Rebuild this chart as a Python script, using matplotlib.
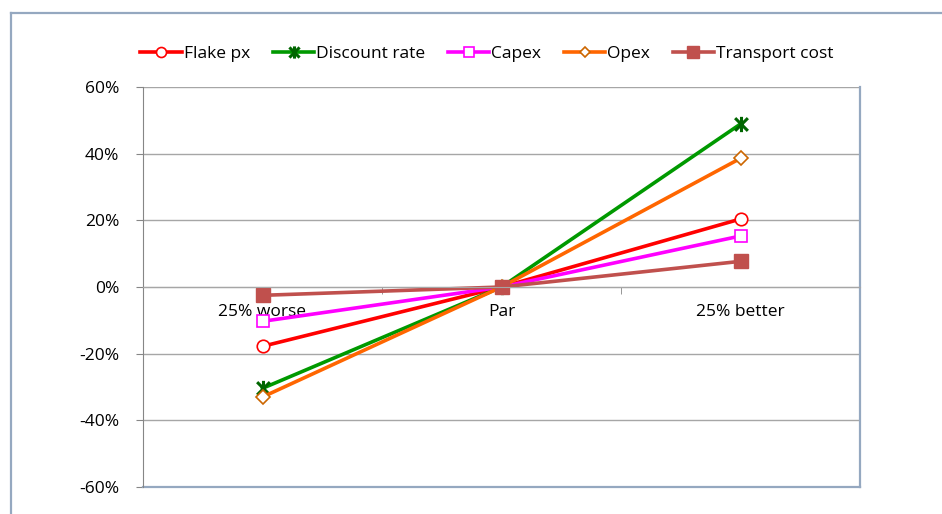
import matplotlib
matplotlib.use("Agg")
from matplotlib import pyplot as plt
from matplotlib.lines import Line2D
from matplotlib.path import Path

plt.rcParams['font.family'] = ['Open Sans', 'DejaVu Sans']

# 数据
categories = ["25% worse", "Par", "25% better"]
flake_px = [-17.8, 0, 20.4]
discount_rate = [-30.4, 0, 48.9]
capex = [-10.3, 0, 15.3]
opex = [-33.0, 0, 38.6]
transport_cost = [-2.5, 0, 7.7]

fig = plt.figure(figsize=(9.42, 5.14), dpi=100)
ax = fig.add_axes([143 / 942, 1 - 487 / 514, (860 - 143) / 942, (487 - 87) / 514])

# 外框 (只看得到左边和上边)
bx, by = 10.5 / 942, 1 - 13 / 514
fig.lines.append(Line2D([bx, bx], [-0.05, by], transform=fig.transFigure,
                        color="#95A8C0", lw=1.6))
fig.lines.append(Line2D([bx, 1.05], [by, by], transform=fig.transFigure,
                        color="#95A8C0", lw=1.6))

# 星形标记: X 加竖线
star = Path([(-1, -1), (1, 1), (-1, 1), (1, -1), (0, -1.2), (0, 1.2)],
            [Path.MOVETO, Path.LINETO] * 3)

x = range(len(categories))
lw = 2.6
ax.plot(x, flake_px, color="#FF0000", lw=lw, marker="o", ms=9,
        mfc="white", mec="#FF0000", mew=1.2, label="Flake px")
ax.plot(x, discount_rate, color="#009900", lw=lw, marker=star, ms=11,
        mec="#006600", mew=2.2, label="Discount rate")
ax.plot(x, capex, color="#FF00FF", lw=lw, marker="s", ms=9,
        mfc="white", mec="#FF00FF", mew=1.2, label="Capex")
ax.plot(x, opex, color="#FF6600", lw=lw, marker="D", ms=7,
        mfc="white", mec="#CC6600", mew=1.2, label="Opex")
ax.plot(x, transport_cost, color="#C0504D", lw=lw, marker="s", ms=10,
        mfc="#C0504D", mec="#C0504D", label="Transport cost")

ax.set_xlim(-0.5, 2.5)
ax.set_ylim(-60, 60)
ax.set_yticks(range(-60, 61, 20))
ax.set_yticklabels([f"{v}%" for v in range(-60, 61, 20)])
ax.yaxis.grid(True, color="#A6A6A6", lw=1)
ax.set_axisbelow(True)
ax.tick_params(axis="y", length=5, color="#868686", pad=12, labelsize=12.5)

ax.set_xticks(list(x))
ax.set_xticklabels(categories)
ax.set_xticks([0.5, 1.5], minor=True)
ax.tick_params(axis="x", which="major", length=0, pad=12, labelsize=12.5)
ax.tick_params(axis="x", which="minor", length=5, color="#868686")

ax.spines["bottom"].set_position(("data", 0))
ax.spines["bottom"].set_color("#A6A6A6")
ax.spines["left"].set_color("#868686")
ax.spines["top"].set_visible(False)
ax.spines["right"].set_color("#95A8C0")
ax.spines["right"].set_linewidth(1.6)
ax.axhline(-60, color="#95A8C0", lw=1.6, clip_on=False)

fig.legend(loc="center", bbox_to_anchor=(0.517, 0.895), ncol=5, frameon=False,
           fontsize=12.5, handlelength=2.4, columnspacing=1.3, handletextpad=0.1,
           markerscale=0.8)

plt.savefig("out.png", dpi=100)
